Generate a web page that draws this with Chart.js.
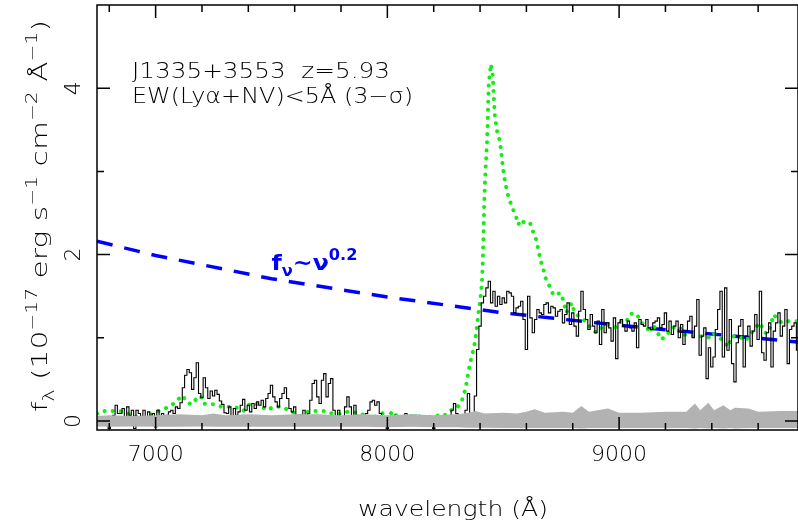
<!DOCTYPE html>
<html>
<head>
<meta charset="utf-8">
<script src="https://cdn.jsdelivr.net/npm/chart.js@4.4.0/dist/chart.umd.min.js"></script>
<style>
html, body { margin: 0; padding: 0; background: #fff; }
#wrap { width: 798px; height: 525px; position: relative; }
</style>
</head>
<body>
<div id="wrap"><canvas id="spec"></canvas></div>
<script>
// observed spectrum, 10 A bins from 6750 A
const specStart = 6750;
const specStep = 10;
const specFlux = [
    0.01, -0.01, -0.01, -0.05, -0.03, -0.09, 0.03, 0.07, 0.19, 0.09,
    0.09, 0.15, 0.05, 0.17, 0.07, 0.13, -0.09, 0.13, 0.09, 0.01,
    0.13, 0.05, 0.11, -0.01, 0.09, -0.07, 0.13, 0.03, 0.09, -0.01,
    0.07, 0.11, 0.13, 0.09, 0.17, 0.15, 0.22, 0.40, 0.55, 0.62,
    0.58, 0.38, 0.52, 0.70, 0.33, 0.28, 0.52, 0.40, 0.27, 0.36,
    0.30, 0.37, 0.32, 0.24, 0.20, 0.10, 0.09, 0.17, 0.05, 0.15,
    0.07, 0.11, 0.19, 0.26, 0.13, 0.19, 0.11, 0.21, 0.15, 0.23,
    0.19, 0.25, 0.17, 0.27, 0.33, 0.43, 0.29, 0.23, 0.17, 0.27,
    0.33, 0.40, 0.27, 0.15, 0.11, 0.17, 0.07, -0.01, 0.03, 0.13,
    0.05, 0.09, 0.25, 0.45, 0.49, 0.29, 0.21, 0.49, 0.57, 0.29,
    0.45, 0.51, 0.13, 0.03, 0.13, 0.01, 0.03, 0.17, 0.29, 0.17,
    0.01, 0.19, 0.07, -0.03, 0.03, 0.05, 0.09, 0.13, 0.23, 0.25,
    0.19, 0.23, 0.09, 0.01, 0.03, -0.09, 0.05, 0.01, 0.07, -0.01,
    0.05, 0.01, 0.03, 0.09, 0.03, 0.05, 0.01, 0.07, 0.02, 0.05,
    0.01, 0.04, -0.01, 0.03, -0.03, -0.09, 0.01, 0.05, -0.01, 0.03,
    0.01, 0.06, 0.01, 0.13, 0.21, 0.09, 0.04, 0.03, 0.05, 0.13,
    0.33, 0.03, -0.03, 0.30, 0.86, 1.14, 1.42, 1.50, 1.60, 1.68,
    1.42, 1.56, 1.38, 1.50, 1.40, 1.48, 1.42, 1.56, 1.54, 1.50,
    1.30, 1.36, 1.38, 1.44, 1.22, 0.86, 1.50, 1.24, 1.06, 1.22,
    1.34, 1.30, 1.28, 1.40, 1.42, 1.30, 1.38, 1.36, 1.26, 1.32,
    1.34, 1.18, 1.28, 1.42, 1.16, 1.30, 1.14, 1.02, 1.32, 1.56,
    1.34, 1.22, 1.10, 1.28, 1.14, 1.06, 1.20, 0.92, 1.34, 1.06,
    1.18, 1.12, 0.96, 1.24, 0.75, 1.18, 1.22, 1.14, 1.08, 1.20,
    1.12, 1.08, 1.18, 0.88, 1.22, 1.16, 1.14, 1.22, 1.12, 1.10,
    1.18, 1.20, 1.24, 1.12, 1.16, 1.30, 1.08, 1.20, 1.04, 1.14,
    1.20, 1.00, 1.16, 0.92, 1.08, 1.20, 1.26, 1.00, 1.14, 1.46,
    0.79, 1.02, 1.12, 0.51, 0.88, 0.65, 0.77, 1.10, 1.34, 1.56,
    0.77, 1.60, 0.85, 1.22, 0.69, 0.47, 0.94, 1.14, 1.22, 0.65,
    1.02, 1.14, 0.90, 1.08, 1.28, 0.98, 1.56, 0.82, 0.73, 1.06,
    1.18, 0.65, 1.08, 1.18, 1.30, 1.02, 1.14, 1.34, 0.69, 1.10,
    1.14, 1.18, 0.85
];

// quasar template (green dots)
const tmplWave = [
    6747, 6770, 6800, 6845, 6880, 6910, 6940, 6967, 6997, 7040,
    7069, 7091, 7114, 7138, 7156, 7180, 7195, 7205, 7235, 7257,
    7286, 7330, 7352, 7378, 7408, 7430, 7459, 7480, 7508, 7547,
    7573, 7598, 7625, 7646, 7668, 7733, 7762, 7798, 7827, 7855,
    7884, 7906, 7928, 7957, 7985, 8000, 8022, 8043, 8071, 8092,
    8136, 8157, 8179, 8200, 8222, 8244, 8265, 8296, 8317, 8330,
    8340, 8347, 8355, 8375, 8385, 8393, 8401, 8408, 8411, 8414,
    8416, 8418, 8421, 8425, 8430, 8433, 8435, 8438, 8443, 8447,
    8455, 8459, 8464, 8473, 8483, 8490, 8498, 8508, 8522, 8537,
    8555, 8565, 8577, 8599, 8617, 8628, 8642, 8652, 8660, 8672,
    8681, 8700, 8717, 8747, 8762, 8772, 8782, 8796, 8808, 8825,
    8854, 8877, 8902, 8912, 8935, 8952, 8981, 9010, 9024, 9039,
    9050, 9075, 9097, 9118, 9132, 9147, 9169, 9180, 9205, 9226,
    9262, 9277, 9320, 9364, 9385, 9403, 9443, 9472, 9487, 9530,
    9544, 9566, 9594, 9609, 9628, 9645, 9667, 9685, 9703, 9732,
    9772
];
const tmplFlux = [
    0.09, 0.12, 0.12, 0.12, 0.09, 0.06, 0.03, 0.06, 0.10, 0.15,
    0.19, 0.24, 0.31, 0.22, 0.20, 0.28, 0.30, 0.21, 0.20, 0.20,
    0.17, 0.17, 0.16, 0.12, 0.21, 0.21, 0.17, 0.13, 0.17, 0.17,
    0.13, 0.10, 0.06, 0.10, 0.12, 0.12, 0.09, 0.085, 0.11, 0.11,
    0.07, 0.09, 0.02, 0.07, 0.10, 0.02, 0.12, 0.05, 0.05, 0.06,
    0.06, -0.02, 0.05, 0.05, 0.07, 0.06, 0.12, 0.15, 0.21, 0.31,
    0.43, 0.55, 0.67, 0.90, 1.10, 1.30, 1.46, 1.66, 1.86, 2.14,
    2.38, 2.62, 2.86, 3.10, 3.35, 3.59, 3.83, 4.07, 4.19, 4.29,
    4.15, 3.91, 3.67, 3.49, 3.39, 3.27, 3.06, 2.87, 2.70, 2.58,
    2.46, 2.36, 2.42, 2.36, 2.37, 2.28, 2.18, 2.06, 1.94, 1.84,
    1.73, 1.62, 1.51, 1.54, 1.43, 1.30, 1.36, 1.42, 1.30, 1.26,
    1.20, 1.12, 1.06, 1.10, 1.14, 1.16, 1.12, 1.20, 1.18, 1.23,
    1.29, 1.29, 1.18, 1.14, 1.06, 1.16, 1.05, 0.98, 1.02, 1.12,
    1.13, 1.04, 1.02, 1.02, 1.00, 1.06, 0.98, 0.89, 1.02, 1.00,
    0.96, 1.04, 1.14, 1.18, 1.06, 1.06, 1.28, 1.22, 1.18, 1.20,
    1.20
];

// noise band (grey)
const noiseWave = [
    6747, 6800, 6900, 7000, 7100, 7200, 7250, 7300, 7400, 7500,
    7600, 7700, 7800, 7900, 8000, 8100, 8200, 8300, 8350, 8380,
    8420, 8500, 8560, 8600, 8635, 8680, 8760, 8800, 8837, 8870,
    8952, 9000, 9100, 9200, 9290, 9327, 9350, 9385, 9410, 9450,
    9480, 9500, 9558, 9600, 9700, 9772
];
const noiseHigh = [
    0.06, 0.07, 0.06, 0.07, 0.08, 0.07, 0.09, 0.07, 0.08, 0.07,
    0.08, 0.08, 0.07, 0.08, 0.07, 0.08, 0.07, 0.08, 0.10, 0.12,
    0.09, 0.10, 0.09, 0.11, 0.14, 0.10, 0.11, 0.10, 0.18, 0.11,
    0.15, 0.10, 0.10, 0.11, 0.11, 0.21, 0.13, 0.22, 0.13, 0.19,
    0.13, 0.16, 0.15, 0.11, 0.12, 0.12
];
const noiseLow = [
    -0.065, -0.07, -0.065, -0.07, -0.07, -0.065, -0.07, -0.07, -0.07, -0.07,
    -0.07, -0.07, -0.07, -0.07, -0.075, -0.07, -0.075, -0.075, -0.08, -0.08,
    -0.08, -0.085, -0.085, -0.085, -0.085, -0.085, -0.085, -0.085, -0.09, -0.085,
    -0.085, -0.085, -0.085, -0.085, -0.085, -0.09, -0.085, -0.09, -0.085, -0.09,
    -0.085, -0.09, -0.085, -0.085, -0.085, -0.085
];

// f_nu ~ nu^0.2 line (blue dashes)
const powWave = [6747, 7000, 7500, 8000, 8500, 9000, 9500, 9772];
const powFlux = [2.16, 1.99, 1.71, 1.49, 1.30, 1.15, 1.02, 0.95];

// axes
const xMin = 6747, xMax = 9772;
const yMin = -0.108, yMax = 5.0;
const xTicks = [6800, 7000, 7200, 7400, 7600, 7800, 8000, 8200, 8400, 8600, 8800, 9000, 9200, 9400, 9600];
const xTickLabels = [7000, 8000, 9000];
const yTicks = [0, 1, 2, 3, 4];
const yTickLabels = [0, 2, 4];

const FONT = '"DejaVu Sans", "Liberation Sans", sans-serif';

function pairs(xs, ys) {
    return ys.map((v, i) => ({x: xs[i], y: v}));
}

// draws text made of plain / sub / sup pieces, optionally squeezed to a width
function drawRich(ctx, parts, x, y, o) {
    let size = o.size;
    let fontFor = k => (o.weight || '200') + ' ' + (k ? Math.round(size * 0.68) : size) + 'px ' + FONT;
    let total = 0;
    for (const [t, k] of parts) {
        ctx.font = fontFor(k);
        total += ctx.measureText(t).width;
    }
    let sx = o.width ? o.width / total : 1;
    ctx.save();
    ctx.translate(x, y);
    if (o.rotate) ctx.rotate(o.rotate);
    ctx.scale(sx, 1);
    ctx.fillStyle = o.color || '#000';
    ctx.textAlign = 'left';
    ctx.textBaseline = 'alphabetic';
    let cx = o.align === 'center' ? -total / 2 : 0;
    for (const [t, k] of parts) {
        ctx.font = fontFor(k);
        let dy = k === 'sup' ? -size * 0.45 : (k === 'sub' ? size * 0.3 : 0);
        ctx.fillText(t, cx, dy);
        cx += ctx.measureText(t).width;
    }
    ctx.restore();
}

const framePlugin = {
    id: 'frame',
    afterDatasetsDraw(chart) {
        const {ctx, chartArea: a, scales: {x, y}} = chart;
        ctx.save();
        ctx.strokeStyle = '#000';
        ctx.lineWidth = 1.5;
        ctx.strokeRect(a.left, a.top, a.right - a.left, a.bottom - a.top);
        ctx.beginPath();
        // ticks point inward on all four sides
        x.ticks.forEach(t => {
            let px = x.getPixelForValue(t.value);
            let len = t.value % 1000 === 0 ? 13 : 7;
            ctx.moveTo(px, a.bottom); ctx.lineTo(px, a.bottom - len);
            ctx.moveTo(px, a.top); ctx.lineTo(px, a.top + len);
        });
        y.ticks.forEach(t => {
            let py = y.getPixelForValue(t.value);
            let len = t.value % 2 === 0 ? 13 : 7;
            ctx.moveTo(a.left, py); ctx.lineTo(a.left + len, py);
            ctx.moveTo(a.right, py); ctx.lineTo(a.right - len, py);
        });
        ctx.stroke();
        ctx.restore();
    },
    afterDraw(chart) {
        const {ctx, scales: {x, y}} = chart;

        // rotated y tick labels
        ctx.save();
        ctx.font = '200 22px ' + FONT;
        ctx.fillStyle = '#000';
        ctx.textAlign = 'center';
        ctx.textBaseline = 'alphabetic';
        yTickLabels.forEach(v => {
            ctx.save();
            ctx.translate(80, y.getPixelForValue(v));
            ctx.rotate(-Math.PI / 2);
            ctx.fillText(String(v), 0, 0);
            ctx.restore();
        });
        ctx.restore();

        drawRich(ctx, [['wavelength (Å)', '']], 453, 516, {size: 22, width: 190, align: 'center'});
        drawRich(ctx, [
            ['f', ''], ['λ', 'sub'], [' (10', ''], ['−17', 'sup'], [' erg s', ''], ['−1', 'sup'],
            [' cm', ''], ['−2', 'sup'], [' Å', ''], ['−1', 'sup'], [')', '']
        ], 47, 216, {size: 22, width: 392, align: 'center', rotate: -Math.PI / 2});

        drawRich(ctx, [['J1335+3553  z=5.93', '']], 132, 78, {size: 21, width: 258});
        drawRich(ctx, [['EW(Lyα+NV)<5Å (3−σ)', '']], 132, 103, {size: 21, width: 281});

        drawRich(ctx, [['f', ''], ['ν', 'sub'], ['~', ''], ['ν', ''], ['0.2', 'sup']],
            x.getPixelForValue(7500), y.getPixelForValue(1.82),
            {size: 22, width: 86, weight: 'bold', color: '#0000ff'});
    }
};

new Chart(document.getElementById('spec'), {
    type: 'line',
    data: {
        datasets: [
            {
                data: pairs(noiseWave, noiseLow),
                borderWidth: 0, pointRadius: 0, fill: false
            },
            {
                data: pairs(noiseWave, noiseHigh),
                borderWidth: 0, pointRadius: 0, fill: '-1',
                backgroundColor: '#b2b2b2'
            },
            {
                data: [{x: xMin, y: 0}, {x: xMax, y: 0}],
                borderColor: '#444', borderWidth: 1.4, borderDash: [1.5, 4.5]
            },
            {
                data: specFlux.map((v, i) => ({x: specStart + i * specStep, y: v})),
                borderColor: '#000', borderWidth: 1.1, stepped: 'middle'
            },
            {
                data: pairs(tmplWave, tmplFlux),
                borderColor: '#11ee11', borderWidth: 4,
                borderDash: [0.1, 8], borderCapStyle: 'round'
            },
            {
                data: pairs(powWave, powFlux),
                borderColor: '#0000ff', borderWidth: 3.5, borderDash: [16, 12]
            }
        ]
    },
    options: {
        animation: false,
        responsive: true,
        maintainAspectRatio: false,
        layout: {autoPadding: false, padding: {top: 5, left: 0, right: 0, bottom: 0}},
        elements: {point: {radius: 0}, line: {tension: 0}},
        datasets: {line: {clip: 0}},
        plugins: {
            legend: {display: false},
            tooltip: {enabled: false},
        },
        scales: {
            x: {
                type: 'linear',
                min: xMin,
                max: xMax,
                grid: {display: false, drawTicks: false},
                border: {display: false},
                afterBuildTicks: s => { s.ticks = xTicks.map(v => ({value: v})); },
                ticks: {
                    autoSkip: false,
                    maxRotation: 0,
                    padding: 12,
                    color: '#000',
                    font: {family: FONT, size: 22, weight: '200'},
                    callback: v => xTickLabels.includes(v) ? String(v) : '',
                },
                afterFit: s => { s.height = 95; },
            },
            y: {
                min: yMin,
                max: yMax,
                grid: {display: false, drawTicks: false},
                border: {display: false},
                afterBuildTicks: s => { s.ticks = yTicks.map(v => ({value: v})); },
                ticks: {display: false},
                afterFit: s => { s.width = 97; },
            }
        }
    },
    plugins: [framePlugin]
});
</script>
</body>
</html>
